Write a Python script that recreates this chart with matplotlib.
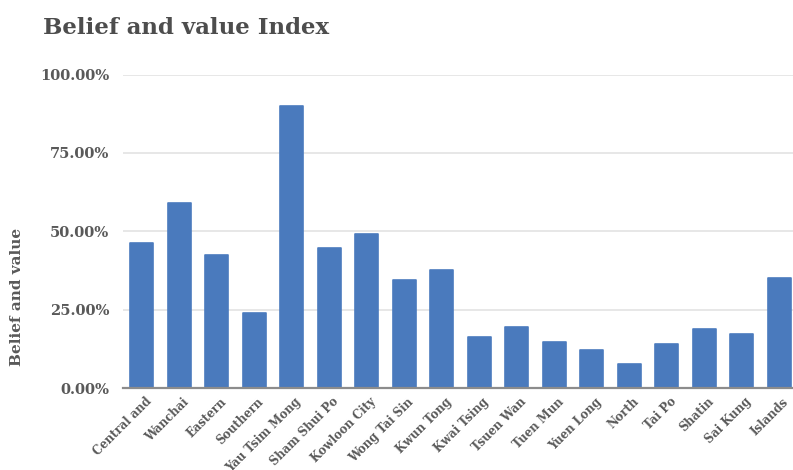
import matplotlib
matplotlib.use("Agg")
import matplotlib.pyplot as plt
from matplotlib.ticker import FuncFormatter
from matplotlib.transforms import ScaledTranslation

districts = ["Central and", "Wanchai", "Eastern", "Southern", "Yau Tsim Mong",
             "Sham Shui Po", "Kowloon City", "Wong Tai Sin", "Kwun Tong",
             "Kwai Tsing", "Tsuen Wan", "Tuen Mun", "Yuen Long", "North",
             "Tai Po", "Shatin", "Sai Kung", "Islands"]
index_pct = [46.3, 59.2, 42.4, 24.1, 90.1, 44.7, 49.3, 34.6, 37.7,
             16.4, 19.5, 14.9, 12.2, 7.9, 14.1, 18.9, 17.2, 35.3]
y_ticks = [0, 25, 50, 75, 100]

W, H = 793, 470
fig = plt.figure(figsize=(W / 100, H / 100), dpi=100)
text_color = "#595959"
serif = ["DejaVu Serif"]

# axes box in pixel terms
left_px, right_px = 123, 793
top_px, base_px = 74.5, 388.3
ax = fig.add_axes([left_px / W, (H - base_px) / H,
                   (right_px - left_px) / W, (base_px - top_px) / H])

step = 37.5
x = list(range(len(districts)))
ax.bar(x, index_pct, width=0.62, color="#4A7ABD", edgecolor="#4A7ABD",
       linewidth=1.2, joinstyle="round", zorder=2)

ax.set_xlim(-0.5, -0.5 + (right_px - left_px) / step)
ax.set_ylim(0, 100)
ax.set_yticks(y_ticks)
ax.yaxis.set_major_formatter(FuncFormatter(lambda v, p: f"{v:.2f}%"))
ax.yaxis.grid(True, color="#E3E3E3", linewidth=1.2, zorder=0)
ax.set_axisbelow(True)

for s in ["top", "right", "left"]:
    ax.spines[s].set_visible(False)
ax.spines["bottom"].set_color("#8C8C8C")
ax.spines["bottom"].set_linewidth(1.6)
ax.spines["bottom"].set_zorder(3)

ax.tick_params(axis="y", length=0, pad=10, labelsize=10.5, labelcolor=text_color)
ax.tick_params(axis="x", length=0, pad=5, labelsize=8.4, labelcolor=text_color)
for lbl in ax.get_yticklabels():
    lbl.set_fontfamily(serif)
    lbl.set_fontweight("bold")

ax.set_xticks(x)
ax.set_xticklabels(districts, rotation=45, ha="right", rotation_mode="anchor",
                   family=serif, fontweight="bold")
shift = ScaledTranslation(3 / 100, 0, fig.dpi_scale_trans)
for lbl in ax.get_xticklabels():
    lbl.set_transform(lbl.get_transform() + shift)

fig.text(43 / W, 1 - 28 / H, "Belief and value Index", family=serif,
         fontweight="bold", fontsize=16.5, color="#4D4D4D", va="center", ha="left")
fig.text(17 / W, 1 - 297 / H, "Belief and value", family=serif,
         fontweight="bold", fontsize=11, color=text_color, rotation=90,
         va="center", ha="center")

fig.savefig("out.png", dpi=100, facecolor="white")
